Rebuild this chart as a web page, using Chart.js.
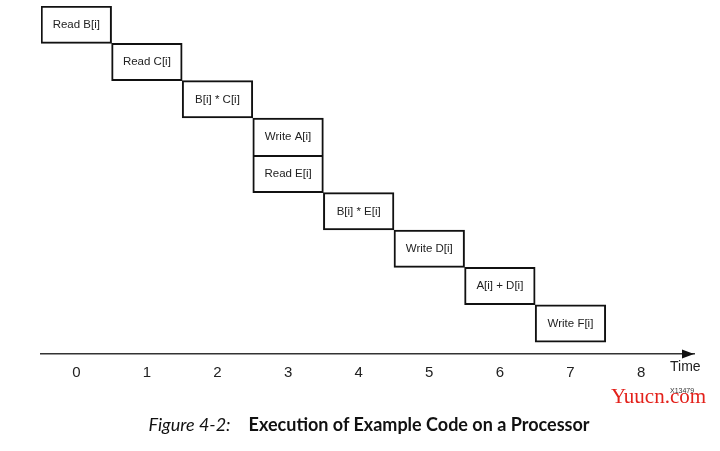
<!DOCTYPE html>
<html>
<head>
<meta charset="utf-8">
<script src="https://cdn.jsdelivr.net/npm/chart.js@4/dist/chart.umd.min.js"></script>
<style>
  body { margin: 0; background: #fff; }
  #wrap { position: relative; width: 720px; height: 451px; }
  #chart { position: absolute; left: 0; top: 0; }
  #caption {
    position: absolute; left: 9px; top: 413px; width: 720px; text-align: center;
    font-family: Lato, "Open Sans", sans-serif; font-size: 18px; color: #111;
  }
  #caption i { margin-right: 18px; }
  #mark {
    position: absolute; left: 611px; top: 384px;
    font-family: "Liberation Serif", "DejaVu Serif", serif; font-size: 21px; color: #e3211b;
  }
  #code {
    position: absolute; left: 670px; top: 387px;
    font-family: "Liberation Sans", Arial, sans-serif; font-size: 7px; color: #333;
  }
</style>
</head>
<body>
<div id="wrap">
  <canvas id="chart" width="720" height="451"></canvas>
  <div id="code">X13479</div>
  <div id="mark">Yuucn.com</div>
  <div id="caption"><i>Figure 4-2:</i><b>Execution of Example Code on a Processor</b></div>
</div>
<script>
// one operation per row, in execution order
const tasks = ["Read B[i]", "Read C[i]", "B[i] * C[i]", "Write A[i]", "Read E[i]",
               "B[i] * E[i]", "Write D[i]", "A[i] + D[i]", "Write F[i]"];
// time step each operation runs in
const taskTimes = [0, 1, 2, 3, 3, 4, 5, 6, 7];
const timeTicks = [0, 1, 2, 3, 4, 5, 6, 7, 8];

const rows = tasks.map((t, i) => ({ y: i, x: [taskTimes[i] - 0.5, taskTimes[i] + 0.5] }));

const boxLabels = {
  id: "boxLabels",
  afterDatasetsDraw(chart) {
    const ctx = chart.ctx;
    const meta = chart.getDatasetMeta(0);
    ctx.save();
    ctx.font = "11.5px 'Liberation Sans', Arial, sans-serif";
    ctx.fillStyle = "#222";
    ctx.textAlign = "center";
    ctx.textBaseline = "middle";
    meta.data.forEach((bar, i) => {
      ctx.fillText(tasks[i], (bar.x + bar.base) / 2, bar.y);
    });
    ctx.restore();
  }
};

const timeArrow = {
  id: "timeArrow",
  afterDraw(chart) {
    const ctx = chart.ctx;
    const { right, bottom } = chart.chartArea;
    ctx.save();
    ctx.fillStyle = "#111";
    ctx.beginPath();
    ctx.moveTo(right, bottom);
    ctx.lineTo(right - 12, bottom - 4.5);
    ctx.lineTo(right - 12, bottom + 4.5);
    ctx.closePath();
    ctx.fill();
    ctx.font = "14px 'Liberation Sans', Arial, sans-serif";
    ctx.fillStyle = "#222";
    ctx.textAlign = "left";
    ctx.textBaseline = "middle";
    ctx.fillText("Time", right - 24, bottom + 13);
    ctx.restore();
  }
};

new Chart(document.getElementById("chart"), {
  type: "bar",
  data: {
    datasets: [{
      data: rows,
      backgroundColor: "#fff",
      borderColor: "#111",
      borderWidth: 2,
      // two ops in the same step share one edge
      borderSkipped: (c) => taskTimes[c.dataIndex + 1] === taskTimes[c.dataIndex] ? "bottom" : false,
      barPercentage: 1,
      categoryPercentage: 1
    }]
  },
  options: {
    indexAxis: "y",
    responsive: false,
    animation: false,
    layout: { padding: { left: 41, top: 6, right: 26, bottom: 67 } },
    plugins: { legend: { display: false }, tooltip: { enabled: false } },
    scales: {
      y: {
        type: "linear",
        reverse: true,
        offset: false,
        min: -0.5,
        max: 8.82,
        display: false,
        afterBuildTicks: (scale) => { scale.ticks = tasks.map((t, i) => ({ value: i })); }
      },
      x: {
        type: "linear",
        min: -0.5,
        max: 8.75,
        grid: { display: false, drawTicks: false },
        border: { display: true, color: "#333", width: 1.5 },
        afterBuildTicks: (scale) => { scale.ticks = timeTicks.map(v => ({ value: v })); },
        afterFit: (scale) => { scale.height = 30; },
        ticks: {
          padding: 10,
          color: "#222",
          font: { family: "'Liberation Sans', Arial, sans-serif", size: 15 },
          maxRotation: 0
        }
      }
    }
  },
  plugins: [boxLabels, timeArrow]
});
</script>
</body>
</html>
